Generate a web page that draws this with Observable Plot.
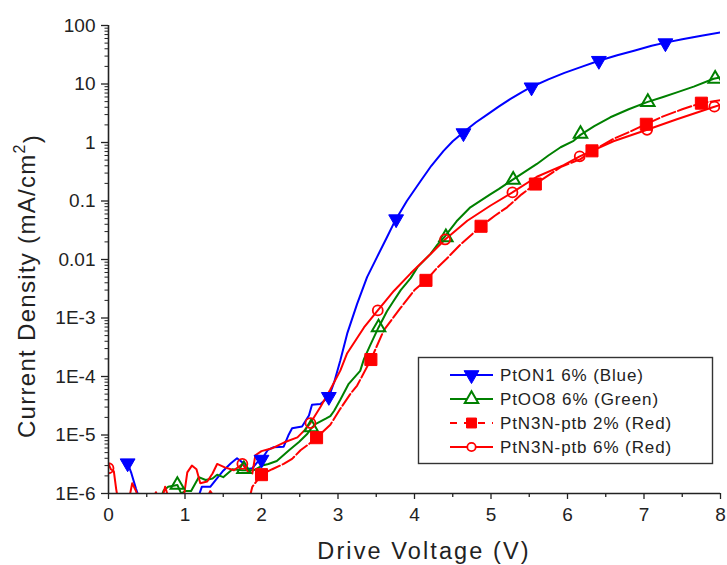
<!DOCTYPE html>
<html>
<head>
<meta charset="utf-8">
<script src="https://cdn.jsdelivr.net/npm/d3@7"></script>
<script src="https://cdn.jsdelivr.net/npm/@observablehq/plot@0.6"></script>
<style>
  html, body { margin: 0; padding: 0; background: #fff; }
  #wrap { position: relative; width: 727px; height: 565px; font-family: "Liberation Sans", Arial, sans-serif; }
  #legend { position: absolute; left: 0; top: 0; }
</style>
</head>
<body>
<div id="wrap"></div>
<script>
// ---- data (V in volts, J in mA/cm^2) ----
const seriesNames = ["PtON1 6% (Blue)", "PtOO8 6% (Green)", "PtN3N-ptb 2% (Red)", "PtN3N-ptb 6% (Red)"];

const ponLineV = [0.25,0.30,0.36,0.42,1.15,1.22,1.33,1.40,1.50,1.60,1.68,1.75,1.80,1.88,1.96,2.00,2.08,2.16,2.29,2.35,2.40,2.53,2.62,2.66,2.77,2.88,2.95,3.03,3.12,3.25,3.38,3.51,3.64,3.75,3.90,4.08,4.22,4.38,4.50,4.64,4.80,4.95,5.10,5.25,5.40,5.52,5.75,5.96,6.20,6.41,6.65,6.87,7.10,7.28,7.50,7.75,8.00];
const ponLineJ = [3.3e-6,2.2e-6,1.2e-6,7e-7,7e-7,1.3e-6,1.3e-6,1.7e-6,2.45e-6,3.3e-6,4.0e-6,3.4e-6,2.6e-6,2.7e-6,3.6e-6,3.8e-6,5.5e-6,6.2e-6,6.3e-6,9.8e-6,1.3e-5,1.4e-5,2.15e-5,3.3e-5,3.4e-5,4.5e-5,8e-5,1.87e-4,5.4e-4,1.74e-3,5.0e-3,0.011,0.024,0.047,0.10,0.22,0.40,0.72,1.05,1.5,2.2,3.0,4.1,5.5,7.2,8.8,12,15.5,20,25,31,37,45,51,58,67,76];
const ponMarkV = [0.25,2.0,2.88,3.76,4.64,5.53,6.41,7.28];
const ponMarkJ = [3.3e-6,3.8e-6,4.5e-5,0.049,1.45,8.8,25,50];

const pooLineV = [0.68,0.72,0.78,0.90,0.95,1.00,1.08,1.18,1.27,1.36,1.42,1.50,1.62,1.75,1.90,2.01,2.09,2.20,2.36,2.49,2.60,2.65,2.71,2.84,2.90,2.95,3.03,3.14,3.29,3.34,3.42,3.53,3.64,3.72,3.82,3.95,4.04,4.21,4.30,4.40,4.55,4.73,4.99,5.10,5.28,5.45,5.60,5.75,5.91,6.08,6.17,6.35,6.56,6.80,7.04,7.25,7.43,7.65,7.91,8.00];
const pooLineJ = [8e-7,1.12e-6,1.3e-6,1.4e-6,1.0e-6,1.1e-6,1.1e-6,1.9e-6,1.7e-6,1.8e-6,2.1e-6,1.9e-6,2.6e-6,2.5e-6,2.5e-6,3.0e-6,3.2e-6,3.6e-6,5.5e-6,7.6e-6,1.05e-5,1.3e-5,1.55e-5,1.9e-5,2.1e-5,2.6e-5,4.0e-5,7.5e-5,1.25e-4,2.0e-4,3.4e-4,6.9e-4,1.3e-3,1.9e-3,3.0e-3,4.8e-3,7.4e-3,0.0125,0.018,0.025,0.045,0.078,0.13,0.16,0.23,0.32,0.43,0.6,0.83,1.07,1.35,1.9,2.7,3.7,4.9,6.0,7.2,9.0,12.3,13];
const pooMarkV = [0.90,1.77,2.65,3.53,4.41,5.29,6.17,7.05,7.93];
const pooMarkJ = [1.4e-6,2.6e-6,1.35e-5,6.9e-4,0.024,0.23,1.4,4.9,12.3];

const n2LineV = [0.56,0.62,0.66,1.28,1.33,1.40,1.84,1.88,2.00,2.14,2.29,2.40,2.51,2.62,2.72,2.90,3.03,3.16,3.25,3.33,3.43,3.60,3.82,4.00,4.15,4.30,4.42,4.60,4.87,5.05,5.21,5.40,5.58,5.91,6.17,6.32,6.60,6.80,7.02,7.25,7.50,7.74,8.00];
const n2LineJ = [7e-7,1.05e-6,8e-7,8e-7,1.1e-6,8e-7,8e-7,1.3e-6,2.1e-6,2.6e-6,3.2e-6,3.9e-6,5.5e-6,7e-6,9e-6,1.5e-5,2.8e-5,5e-5,7e-5,1.1e-4,1.95e-4,6.2e-4,1.5e-3,3.0e-3,4.4e-3,7.3e-3,0.0103,0.018,0.037,0.056,0.078,0.13,0.195,0.38,0.52,0.72,1.15,1.5,2.05,2.8,3.7,4.7,5.3];
const n2MarkV = [2.0,2.72,3.43,4.15,4.87,5.58,6.32,7.03,7.75];
const n2MarkJ = [2.1e-6,9e-6,1.95e-4,4.4e-3,0.037,0.195,0.72,2.05,4.7];

const n6LineV = [0.00,0.03,0.07,0.10,0.13,0.26,0.31,0.36,0.41,0.70,0.74,0.79,0.98,1.03,1.09,1.15,1.20,1.29,1.36,1.42,1.52,1.64,1.75,1.82,1.88,1.92,2.00,2.15,2.30,2.47,2.56,2.64,2.77,2.90,3.03,3.12,3.34,3.52,3.73,3.95,4.17,4.40,4.69,4.99,5.28,5.60,5.95,6.16,6.60,7.04,7.43,7.90,8.00];
const n6LineJ = [3.2e-6,2.6e-6,2.4e-6,1.2e-6,7e-7,7e-7,1.5e-6,1.1e-6,7e-7,8e-7,1.3e-6,8e-7,8e-7,2.3e-6,3.0e-6,2.6e-6,1.5e-6,1.6e-6,2.2e-6,3.2e-6,2.8e-6,2.5e-6,3.2e-6,2.4e-6,2.2e-6,4.5e-6,5.3e-6,6.0e-6,7.5e-6,9.1e-6,1.2e-5,1.6e-5,3.0e-5,6.0e-5,1.26e-4,2.5e-4,6.9e-4,1.35e-3,2.9e-3,5.8e-3,0.011,0.022,0.046,0.083,0.14,0.26,0.41,0.58,1.05,1.65,2.5,4.0,4.4];
const n6MarkV = [0.0,1.75,2.64,3.52,4.40,5.28,6.16,7.04,7.92];
const n6MarkJ = [2.7e-6,3.2e-6,1.6e-5,1.35e-3,0.022,0.14,0.58,1.65,4.1];

const yMajor = [100,10,1,0.1,0.01,1e-3,1e-4,1e-5,1e-6];
const yMajorLabels = ["100","10","1","0.1","0.01","1E-3","1E-4","1E-5","1E-6"];
const xMajor = [0,1,2,3,4,5,6,7,8];
const xMinor = [0.5,1.5,2.5,3.5,4.5,5.5,6.5,7.5];

// ---- build tables ----
const zipT = (V, J) => V.map((v, i) => ({v, j: J[i]}));
const ponLine = zipT(ponLineV, ponLineJ), ponMark = zipT(ponMarkV, ponMarkJ);
const pooLine = zipT(pooLineV, pooLineJ), pooMark = zipT(pooMarkV, pooMarkJ);
const n2Line = zipT(n2LineV, n2LineJ), n2Mark = zipT(n2MarkV, n2MarkJ);
const n6Line = zipT(n6LineV, n6LineJ), n6Mark = zipT(n6MarkV, n6MarkJ);
const yMinor = [];
for (let e = -6; e < 2; e++) for (let k = 2; k <= 9; k++) yMinor.push(k * Math.pow(10, e));

const BLUE = "#0000ff", GREEN = "#008000", RED = "#ff0000", AX = "#222";
const W = 727, H = 565;
const mL = 108, mR = 7, mT = 25, mB = 72;
const FONT = "'Liberation Sans', Arial, sans-serif";

const plot = Plot.plot({
  width: W, height: H,
  marginLeft: mL, marginRight: mR, marginTop: mT, marginBottom: mB,
  style: {fontFamily: FONT, color: AX, background: "#fff"},
  x: {domain: [0, 8], axis: null},
  y: {type: "log", domain: [1e-6, 100], axis: null},
  marks: [
    // lines
    Plot.line(ponLine, {x: "v", y: "j", stroke: BLUE, strokeWidth: 2, clip: true}),
    Plot.line(pooLine, {x: "v", y: "j", stroke: GREEN, strokeWidth: 2, clip: true}),
    Plot.line(n2Line, {x: "v", y: "j", stroke: RED, strokeWidth: 2, strokeDasharray: "14,3", clip: true}),
    Plot.line(n6Line, {x: "v", y: "j", stroke: RED, strokeWidth: 2, clip: true}),
    // markers
    Plot.dot(ponMark, {x: "v", y: "j", symbol: "triangle", rotate: 180, r: 5.5, fill: BLUE, stroke: BLUE, strokeWidth: 1, clip: true}),
    Plot.dot(pooMark, {x: "v", y: "j", symbol: "triangle", r: 5, fill: "none", stroke: GREEN, strokeWidth: 2, clip: true}),
    Plot.dot(n2Mark, {x: "v", y: "j", symbol: "square", r: 6.8, fill: RED, stroke: RED, strokeWidth: 1, clip: true}),
    Plot.dot(n6Mark, {x: "v", y: "j", symbol: "circle", r: 5, fill: "none", stroke: RED, strokeWidth: 1.8, clip: true}),
    // axes
    Plot.axisX({ticks: xMajor, tickSize: 6, tickPadding: 8, fontSize: 19, stroke: AX, strokeWidth: 1.3, tickFormat: d => String(d), label: null}),
    Plot.axisX({ticks: xMinor, tickSize: 4, stroke: AX, strokeWidth: 1.3, text: null, label: null}),
    Plot.axisY({ticks: yMajor, tickSize: 7, tickPadding: 6, fontSize: 19, stroke: AX, strokeWidth: 1.3,
      tickFormat: d => yMajorLabels[yMajor.indexOf(d)], label: null}),
    Plot.axisY({ticks: yMinor, tickSize: 3.5, stroke: AX, strokeWidth: 1, text: null, label: null}),
    Plot.ruleX([0], {stroke: AX, strokeWidth: 1.6}),
    Plot.ruleY([1e-6], {stroke: AX, strokeWidth: 1.6})
  ]
});

const wrap = document.getElementById("wrap");
wrap.appendChild(plot);

// axis titles
const svg = d3.select(plot);
svg.append("text")
  .attr("x", 424).attr("y", 559)
  .attr("text-anchor", "middle").attr("fill", AX)
  .style("font-family", FONT)
  .style("font-size", "23.5px").style("letter-spacing", "2.1px")
  .text("Drive Voltage (V)");
const yt = svg.append("text")
  .attr("transform", `translate(35, 286) rotate(-90)`)
  .attr("text-anchor", "middle").attr("fill", AX)
  .style("font-family", FONT)
  .style("font-size", "24px").style("letter-spacing", "1.3px");
yt.append("tspan").text("Current Density (mA/cm");
yt.append("tspan").attr("dy", "-0.6em").style("font-size", "16px").text("2");
yt.append("tspan").attr("dy", "0.6em").text(")");

// legend overlay
const lg = d3.select(wrap).append("svg").attr("id", "legend").attr("width", W).attr("height", H);
lg.append("rect").attr("x", 418.5).attr("y", 357.5).attr("width", 294).attr("height", 106)
  .attr("fill", "#fff").attr("stroke", "#333").attr("stroke-width", 1.4);
const rowsY = [375, 399, 423, 447];
const sym = (name, r) => d3.symbol(name === "triangle" ? d3.symbolTriangle : name === "square" ? d3.symbolSquare : d3.symbolCircle, Math.PI * r * r)();
const specs = [
  {c: BLUE, dash: null, s: "triangle", r: 5.5, fill: BLUE, rot: 180, sw: 1},
  {c: GREEN, dash: null, s: "triangle", r: 5, fill: "none", rot: 0, sw: 2},
  {c: RED, dash: "7,7", s: "square", r: 5.6, fill: RED, rot: 0, sw: 1},
  {c: RED, dash: null, s: "circle", r: 4.2, fill: "none", rot: 0, sw: 1.8}
];
specs.forEach((sp, i) => {
  const y = rowsY[i];
  lg.append("line").attr("x1", 450).attr("x2", 493).attr("y1", y).attr("y2", y)
    .attr("stroke", sp.c).attr("stroke-width", 2).attr("stroke-dasharray", sp.dash);
  lg.append("path").attr("d", sym(sp.s, sp.r))
    .attr("transform", `translate(471.5,${y}) rotate(${sp.rot})`)
    .attr("fill", sp.fill === "none" ? "#fff" : sp.fill).attr("stroke", sp.c).attr("stroke-width", sp.sw);
  lg.append("text").attr("x", 500).attr("y", y).attr("dy", "0.35em")
    .attr("fill", AX).style("font-family", FONT).style("font-size", "17px").style("letter-spacing", "0.9px")
    .text(seriesNames[i]);
});
</script>
</body>
</html>
